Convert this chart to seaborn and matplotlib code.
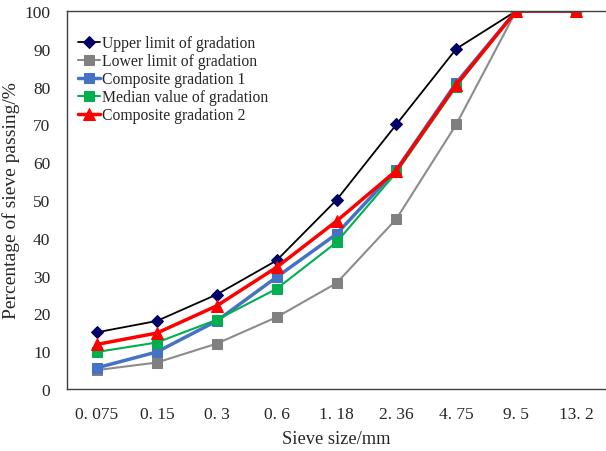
import numpy as np
import pandas as pd
import matplotlib
matplotlib.use("Agg")
import matplotlib.pyplot as plt
import seaborn as sns

#%% data
sieve_labels = ["0. 075", "0. 15", "0. 3", "0. 6", "1. 18", "2. 36", "4. 75", "9. 5", "13. 2"]
upper_limit = [15, 18, 25, 34, 50, 70, 90, 100, 100]
lower_limit = [5, 7, 12, 19, 28, 45, 70, 100, 100]
composite_1 = [5.6, 9.8, 18, 29.6, 41, 58, 81, 100, 100]
median_value = [9.8, 12.3, 18.3, 26.5, 38.8, 57.3, 80, 100, 100]
composite_2 = [11.8, 14.8, 22, 32.2, 44.4, 57.8, 80.5, 100, 100]

series = [
    ("Upper limit of gradation", upper_limit, "#000000", "D", "#000066", 1.3, 6.5),
    ("Lower limit of gradation", lower_limit, "#8c8c8c", "s", "#808080", 1.5, 6.5),
    ("Composite gradation 1", composite_1, "#4472C4", "s", "#4472C4", 2.5, 7.5),
    ("Median value of gradation", median_value, "#00B050", "s", "#00B050", 1.5, 7),
    ("Composite gradation 2", composite_2, "#FF0000", "^", "#FF0000", 2.5, 8),
]

#%% plot
sns.set_style("white")
plt.rcParams["font.family"] = ["Liberation Serif", "DejaVu Serif"]

fig = plt.figure(figsize=(6.06, 4.52), dpi=100)
ax = fig.add_axes([67 / 606, 62 / 452, (606 - 67) / 606, 378 / 452])

pos = np.arange(len(sieve_labels))
for name, vals, col, mk, mcol, lw, ms in series:
    df = pd.DataFrame({"x": pos, "y": vals})
    sns.lineplot(data=df, x="x", y="y", ax=ax, color=col, linewidth=lw,
                 marker=mk, markersize=ms, markerfacecolor=mcol,
                 markeredgecolor=mcol, label=name)

ax.set_xlim(-0.5, 8.5 - (613.7 - 606) / 60.7)
ax.set_ylim(0, 100)
ax.set_xticks(pos)
ax.set_xticklabels(sieve_labels)
ax.set_xticks(np.arange(-0.5, 9, 1), minor=True)
ax.set_yticks(range(0, 101, 10))
ax.tick_params(axis="x", which="major", direction="in", length=3, width=0.8,
               color="#404040", labelsize=12.5, pad=12)
ax.tick_params(axis="x", which="minor", direction="in", length=4.5, width=0.8,
               color="#404040")
ax.tick_params(axis="y", length=0, labelsize=12.5, pad=12)

for s in ["left", "bottom", "top"]:
    ax.spines[s].set_color("#404040")
    ax.spines[s].set_linewidth(1)
ax.spines["right"].set_visible(False)

ax.set_xlabel("Sieve size/mm", fontsize=13.3, labelpad=6)
ax.set_ylabel("Percentage of sieve passing/%", fontsize=14, labelpad=3)

ax.legend(loc="upper left", bbox_to_anchor=(0.0, 0.965), frameon=False,
          fontsize=11.3, handlelength=1.4, handletextpad=0.1,
          labelspacing=0.13, borderaxespad=0.3)

fig.savefig("out.png", dpi=100)
